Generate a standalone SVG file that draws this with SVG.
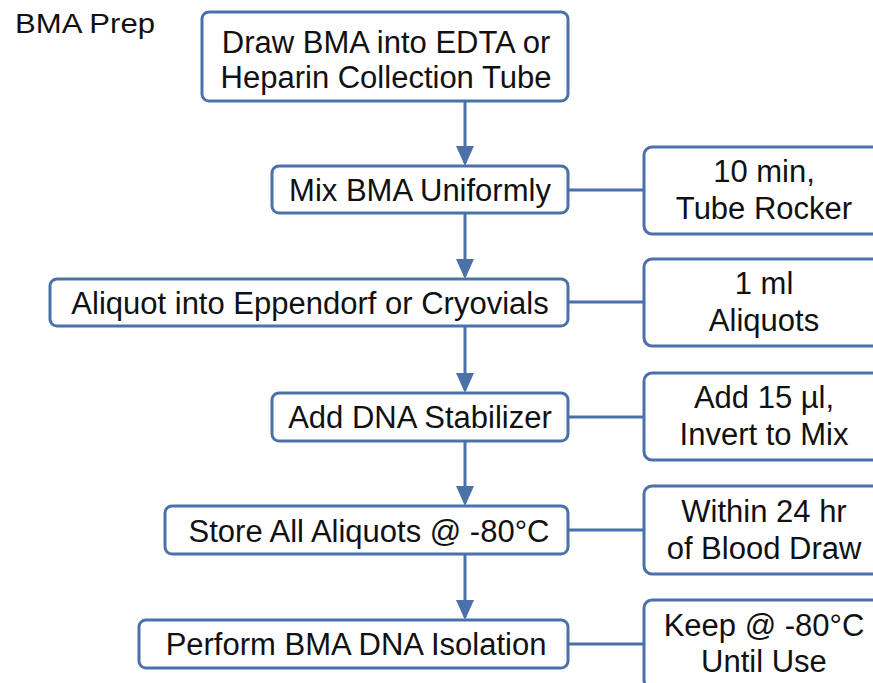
<svg xmlns="http://www.w3.org/2000/svg" width="873" height="683" viewBox="0 0 873 683">
<defs>
<style>
.box{fill:#ffffff;stroke:#4a72a8;stroke-width:3}
.t{font-family:"Liberation Sans",Arial,Helvetica,sans-serif;font-size:31px;fill:#111111;text-anchor:middle}
.r{font-family:"Liberation Sans",Arial,Helvetica,sans-serif;font-size:31px;fill:#111111;text-anchor:middle}
.c{stroke:#4a72a8;stroke-width:3;fill:none}
</style>
<marker id="ah" markerUnits="userSpaceOnUse" markerWidth="20" markerHeight="18" refX="17" refY="9" orient="auto" viewBox="0 0 20 18">
<path d="M0,0 L20,9 L0,18 Z" fill="#4a72a8"/>
</marker>
</defs>
<rect width="873" height="683" fill="#ffffff"/>
<text x="15" y="33" font-family="Liberation Sans, Arial, sans-serif" font-size="27" fill="#111111" textLength="140" lengthAdjust="spacingAndGlyphs">BMA Prep</text>
<g id="connectors">
<line class="c" x1="465" y1="101" x2="465" y2="163" marker-end="url(#ah)"/>
<line class="c" x1="465" y1="213" x2="465" y2="276" marker-end="url(#ah)"/>
<line class="c" x1="465" y1="326" x2="465" y2="390" marker-end="url(#ah)"/>
<line class="c" x1="465" y1="441" x2="465" y2="503" marker-end="url(#ah)"/>
<line class="c" x1="465" y1="554" x2="465" y2="617" marker-end="url(#ah)"/>
<line class="c" x1="568" y1="190" x2="644" y2="190"/>
<line class="c" x1="568" y1="302" x2="644" y2="302"/>
<line class="c" x1="568" y1="417" x2="644" y2="417"/>
<line class="c" x1="568" y1="530" x2="644" y2="530"/>
<line class="c" x1="568" y1="644" x2="644" y2="644"/>
</g>
<g id="n1">
<rect class="box" x="202" y="12" width="366" height="89" rx="7"/>
<text class="t" x="386" y="53">Draw BMA into EDTA or</text>
<text class="t" x="386" y="88">Heparin Collection Tube</text>
</g>
<g id="n2">
<rect class="box" x="272" y="166" width="296" height="47" rx="7"/>
<text class="t" x="420" y="201">Mix BMA Uniformly</text>
</g>
<g id="n3">
<rect class="box" x="50" y="279" width="518" height="47" rx="7"/>
<text class="t" x="310" y="314">Aliquot into Eppendorf or Cryovials</text>
</g>
<g id="n4">
<rect class="box" x="272" y="393" width="296" height="48" rx="7"/>
<text class="t" x="420" y="428">Add DNA Stabilizer</text>
</g>
<g id="n5">
<rect class="box" x="165" y="506" width="403" height="48" rx="7"/>
<text class="t" x="369" y="542">Store All Aliquots @ -80°C</text>
</g>
<g id="n6">
<rect class="box" x="139" y="620" width="429" height="48" rx="7"/>
<text class="t" x="356" y="655">Perform BMA DNA Isolation</text>
</g>
<g id="r1">
<rect class="box" x="644" y="147" width="242" height="87" rx="8"/>
<text class="r" x="764" y="182">10 min,</text>
<text class="r" x="764" y="219">Tube Rocker</text>
</g>
<g id="r2">
<rect class="box" x="644" y="259" width="242" height="87" rx="8"/>
<text class="r" x="764" y="294">1 ml</text>
<text class="r" x="764" y="331">Aliquots</text>
</g>
<g id="r3">
<rect class="box" x="644" y="373" width="242" height="87" rx="8"/>
<text class="r" x="764" y="408">Add 15 µl,</text>
<text class="r" x="764" y="445">Invert to Mix</text>
</g>
<g id="r4">
<rect class="box" x="644" y="486" width="242" height="88" rx="8"/>
<text class="r" x="764" y="522">Within 24 hr</text>
<text class="r" x="764" y="559">of Blood Draw</text>
</g>
<g id="r5">
<rect class="box" x="644" y="600" width="242" height="88" rx="8"/>
<text class="r" x="764" y="636">Keep @ -80°C</text>
<text class="r" x="764" y="672">Until Use</text>
</g>
</svg>
